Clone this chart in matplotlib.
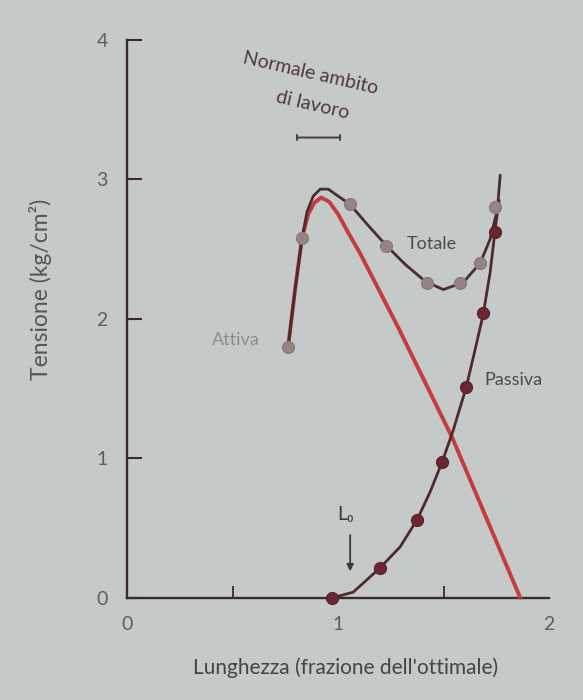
import matplotlib
matplotlib.use("Agg")
import matplotlib.pyplot as plt

plt.rcParams['font.family'] = ['Lato', 'DejaVu Sans']

# ---- data (length as fraction of optimum, tension kg/cm^2) ----
x_ticks = [0, 1, 2]
y_ticks = [0, 1, 2, 3, 4]
x_minor = [0.5, 1.5, 2.0]

# traced curves
active_x = [0.763, 0.796, 0.829, 0.858, 0.886, 0.919, 0.957, 1.000, 1.047, 1.104, 1.284, 1.540, 1.863]
active_y = [1.80, 2.21, 2.58, 2.75, 2.83, 2.87, 2.84, 2.75, 2.62, 2.47, 1.94, 1.15, 0.00]

total_x = [0.763, 0.796, 0.829, 0.853, 0.882, 0.915, 0.953, 1.000, 1.057, 1.142, 1.232, 1.318,
           1.412, 1.498, 1.592, 1.673, 1.720, 1.754, 1.768]
total_y = [1.80, 2.21, 2.58, 2.77, 2.88, 2.93, 2.93, 2.88, 2.82, 2.67, 2.52, 2.39,
           2.27, 2.21, 2.26, 2.40, 2.57, 2.78, 3.03]

passive_x = [0.972, 1.071, 1.199, 1.294, 1.374, 1.436, 1.493, 1.545, 1.607, 1.649, 1.687, 1.720, 1.744, 1.763]
passive_y = [0.00, 0.04, 0.215, 0.366, 0.559, 0.76, 0.975, 1.20, 1.51, 1.78, 2.03, 2.33, 2.64, 2.85]

# measured points
active_pts_x = [0.763, 0.829]
active_pts_y = [1.80, 2.58]
total_pts_x = [1.057, 1.227, 1.422, 1.578, 1.673, 1.744]
total_pts_y = [2.82, 2.52, 2.26, 2.26, 2.40, 2.80]
passive_pts_x = [0.972, 1.199, 1.374, 1.493, 1.607, 1.687, 1.744]
passive_pts_y = [0.00, 0.215, 0.559, 0.975, 1.51, 2.04, 2.62]

# normal working range
range_x = [0.806, 1.009]
range_y = 3.30

# ---- figure ----
bg = '#c5cac9'
axis_col = '#3b2a2c'
fig = plt.figure(figsize=(5.83, 7.0), dpi=100, facecolor=bg)
ax = fig.add_axes([0.218, 0.146, 0.724, 0.797], facecolor=bg)
ax.set_xlim(0, 2)
ax.set_ylim(0, 4)

for s in ['top', 'right']:
    ax.spines[s].set_visible(False)
for s in ['left', 'bottom']:
    ax.spines[s].set_color(axis_col)
    ax.spines[s].set_linewidth(1.7)

ax.set_yticks(y_ticks)
ax.set_yticklabels([str(v) for v in y_ticks])
ax.tick_params(axis='y', direction='in', length=11, width=1.5, color=axis_col,
               labelsize=14, labelcolor='#5e5e5e', pad=14)
ax.set_xticks(x_ticks)
ax.set_xticklabels([str(v) for v in x_ticks])
ax.tick_params(axis='x', which='major', length=0, labelsize=14, labelcolor='#5e5e5e', pad=13)
ax.set_xticks(x_minor, minor=True)
ax.tick_params(axis='x', which='minor', direction='in', length=9, width=1.3, color=axis_col)

# curves
ax.plot(active_x, active_y, color='#c43c3b', lw=2.8, solid_capstyle='round', zorder=3, clip_on=False)
ax.plot(total_x, total_y, color='#4a2c2e', lw=2.0, solid_capstyle='round', zorder=4, clip_on=False)
ax.plot(passive_x, passive_y, color='#4e2a2c', lw=2.0, solid_capstyle='round', zorder=4, clip_on=False)

# markers
ax.plot(active_pts_x, active_pts_y, 'o', ms=8.5, color='#958486', mec='#8a7a7c', zorder=5, clip_on=False)
ax.plot(total_pts_x, total_pts_y, 'o', ms=8.5, color='#958486', mec='#8a7a7c', zorder=5, clip_on=False)
ax.plot(passive_pts_x, passive_pts_y, 'o', ms=8.5, color='#6b2630', mec='#5e2029', zorder=6, clip_on=False)

# annotations
txt = '#4a4a4a'
ax.text(0.867, 3.76, 'Normale ambito', ha='center', va='center', rotation=-13,
        fontsize=14, color='#4e3a3c')
ax.text(0.877, 3.53, 'di lavoro', ha='center', va='center', rotation=-13,
        fontsize=14, color='#4e3a3c')
ax.annotate('', xy=(range_x[1], range_y), xytext=(range_x[0], range_y),
            arrowprops=dict(arrowstyle='|-|,widthA=0.2,widthB=0.2', color='#4a3a3c', lw=1.4,
                            shrinkA=0, shrinkB=0))
ax.text(1.445, 2.54, 'Totale', ha='center', va='center', fontsize=13, color=txt)
ax.text(0.517, 1.85, 'Attiva', ha='center', va='center', fontsize=13, color='#8c8c8c')
ax.text(1.83, 1.56, 'Passiva', ha='center', va='center', fontsize=13, color=txt)
ax.text(1.033, 0.60, 'L₀', ha='center', va='center', fontsize=14, color='#3a3a3a')
ax.annotate('', xy=(1.057, 0.19), xytext=(1.057, 0.45),
            arrowprops=dict(arrowstyle='-|>', color='#3a3a3a', lw=1.3, mutation_scale=10,
                            shrinkA=0, shrinkB=0))

fig.text(0.069, 0.586, 'Tensione (kg/cm²)', rotation=90, ha='center', va='center',
         fontsize=16.5, color='#555555')
fig.text(0.592, 0.046, "Lunghezza (frazione dell'ottimale)", ha='center', va='center',
         fontsize=15, color='#444444')

fig.savefig('out.png', dpi=100, facecolor=bg)
